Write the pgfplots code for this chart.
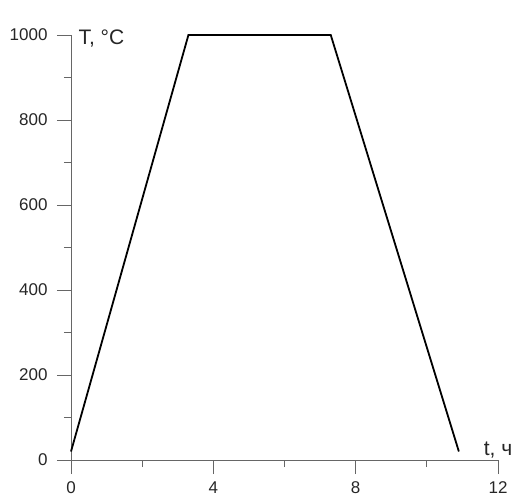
\documentclass[border=0pt]{standalone}
\usepackage{fontspec}
\setmainfont{Liberation Sans}
\usepackage{pgfplots}
\pgfplotsset{compat=1.18}

\begin{document}
\begin{tikzpicture}
\begin{axis}[
    scale only axis,
    width=427pt, height=425pt,
    xmin=0, xmax=12,
    ymin=0, ymax=1000,
    axis lines*=left,
    axis line style={gray!80!black, line width=0.9pt},
    xtick={0,4,8,12},
    ytick={0,200,...,1000},
    minor x tick num=1,
    minor y tick num=1,
    tick align=outside,
    major tick length=14pt,
    minor tick length=7pt,
    tick style={gray!80!black, line width=0.9pt},
    ticklabel style={font=\fontsize{17}{20}\selectfont, text=black!85},
    xticklabel style={yshift=-4pt},
    yticklabel style={xshift=-6pt},
    /pgf/number format/assume math mode=true,
    /pgf/number format/1000 sep={},
    clip=false,
]
\addplot[black, line width=1.8pt, mark=none] coordinates {
    (0,20) (3.3,1000) (7.3,1000) (10.9,20)
};
\node[anchor=base west, font=\fontsize{21}{24}\selectfont, text=black!85]
    at (axis cs:0,1000) [xshift=4pt, yshift=-10pt] {T, °C};
\node[anchor=base, font=\fontsize{21}{24}\selectfont, text=black!85]
    at (axis cs:12,0) [yshift=5pt] {t, ч};
\coordinate (O) at (rel axis cs:0,0);
\coordinate (T) at (rel axis cs:1,1);
\end{axis}
\pgfresetboundingbox
\path ([shift={(-71pt,-40pt)}]O) rectangle ([shift={(17pt,35pt)}]T);
\end{tikzpicture}
\end{document}
